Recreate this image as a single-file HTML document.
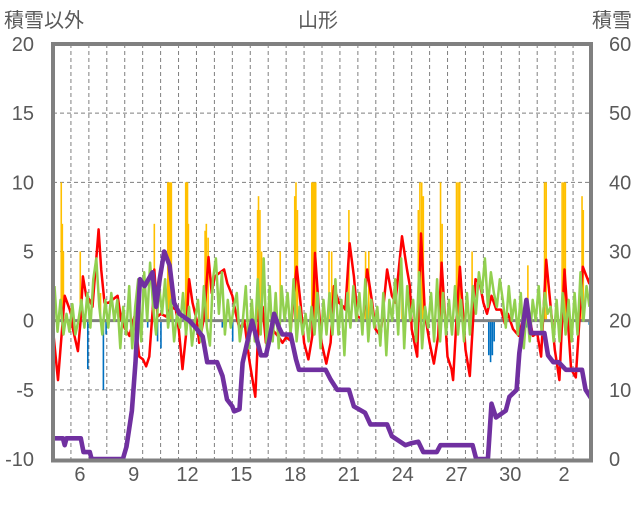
<!DOCTYPE html>
<html><head><meta charset="utf-8"><style>
html,body{margin:0;padding:0;background:#fff;}
svg text{font-family:"Liberation Sans","Noto Sans CJK JP",sans-serif;fill:#595959;}
</style></head><body>
<svg id="chart" width="636" height="501" viewBox="0 0 636 501">
<defs><clipPath id="clip"><rect x="53" y="44" width="538" height="415"/></clipPath></defs>
<text x="4" y="27" font-size="20">積雪以外</text>
<text x="318" y="27" font-size="20" text-anchor="middle">山形</text>
<text x="632" y="27" font-size="20" text-anchor="end">積雪</text>
<g id="grid"></g><g id="bars" clip-path="url(#clip)"></g><g id="zero"></g><g id="lines" clip-path="url(#clip)"></g><g id="frame"></g><g id="labels"></g>
</svg>
<script>
const leftTicks=[20,15,10,5,0,-5,-10];
const rightTicks=[60,50,40,30,20,10,0];
const dayLabels=['6','9','12','15','18','21','24','27','30','2'];
const dayLabelIdx=[1,4,7,10,13,16,19,22,25,28];
const redT=[0,0.28,0.65,0.93,1.04,1.11,1.39,1.54,1.67,1.85,2.04,2.2,2.54,2.69,2.87,3.1,3.6,3.8,4.02,4.26,4.54,4.81,5.02,5.19,5.37,5.56,5.65,5.83,6.02,6.3,6.6,6.85,7.02,7.22,7.41,7.59,7.78,8.0,8.15,8.43,8.67,8.85,9.02,9.54,9.72,10.0,10.2,10.4,10.67,10.94,11.28,11.5,11.69,11.87,12.2,12.6,12.8,13.0,13.2,13.59,13.8,14.0,14.24,14.46,14.61,14.8,14.98,15.24,15.48,15.67,15.94,16.2,16.3,16.54,16.78,16.98,17.3,17.52,17.8,17.98,18.26,18.63,18.9,19.1,19.46,19.74,19.9,20.0,20.31,20.52,20.74,21.0,21.24,21.48,21.67,21.85,22.0,22.22,22.31,22.5,22.69,22.87,23.0,23.24,23.56,23.8,24.0,24.2,24.45,24.72,24.98,25.2,25.37,25.65,25.98,26.2,26.5,26.76,27.0,27.22,27.5,27.69,27.98,28.24,28.52,28.89,29.15,29.54,29.9,30];
const redV=[-0.65,-4.3,1.8,0.8,0.3,-0.6,-2.2,0,3.2,1.8,1.5,1.0,6.6,3.7,1.3,1.3,1.8,0.1,-0.6,-1.1,0.3,-2.6,-2.8,-3.3,-2.6,0.8,3.7,0.3,0.5,0.3,1.0,0.8,-0.7,-3.5,-1.1,3.0,1.3,0.1,-1.6,0.3,4.6,2.0,3.2,3.7,2.7,1.8,0.5,-0.6,0,-2.8,-5.5,0.8,1.0,-1.6,-0.6,-1.2,-1.6,-1.2,-1.4,3.9,1.3,-1.6,-2.8,-1.1,4.9,1.3,-1.6,-3.1,-1.6,2.5,1.3,1.0,0.8,5.6,3.2,0.3,0.1,3.7,1.3,-0.6,-1.1,3.7,1.8,1.3,6.1,3.7,2.5,-0.6,-2.6,6.3,0.5,-1.6,-3.1,-1.1,4.2,0.5,-2.6,-3.5,-4.3,0.1,3.9,0.5,-2.1,-4.0,3.0,2.7,1.3,0.5,1.8,0.8,0.8,-0.2,0.5,-0.6,-1.1,0.1,0.8,-1.1,-0.9,-2.6,4.4,1.8,-2.1,-4.3,3.7,-3.5,-4.1,3.9,2.7,3.5];
const greenV=[2.5,-0.8,1.5,-1,0.5,-0.8, 1.2,-1,0,1.5,-0.5,2, -0.5,3,4.5,1,-1,1.5, -0.5,2,0,1.5,-2,1, -1,2.5,-2,1,3,-1.5, 3.5,0,4.2,1,-1,2.5, 0.5,3,-0.5,1.5,-1.5,0.5, -0.5,2,-1,1,-1.8,0, 1.5,-1.5,2.5,-0.5,-1.8,3, 4.5,0.5,3.5,-1,1.5,-0.5, 1,2,-1.5,0,2.5,-2, 1.5,-1.5,3,-1,4.5,-2, 2.5,-1.5,2,-2,2.5,0, 2,-1,3,-1.5,1,-1, 0.5,-1.5,1,-1,2,-2, 1.5,-1,2,-1,3,-1, 1.5,-2.5,2,-0.5,2.5,0, 2,-1,3,-1.5,1.5,-0.5, 1,-1.8,2,-2.5,1.5,0, 3,-1,4.5,-2,2.5,0, 1.5,-1.5,3.5,-2,1,-0.5, 2,-1.5,3,-1.5,2,-1, 1.5,-1,2.5,-1,1.5,-1.5, 2,-1,2.5,0.5,3.5,2, 4.5,1,3.5,2,1,3, 1.5,-0.5,2.5,0,1.5,-1, 2,-2,1,-1.5,1.5,0, 2.5,-1,2,0.5,1,-1.5, 1.5,-1.5,2,-1,1.5,-1.5, 2,-1,3.5,0,2.5,1];
const snowT=[0,0.55,0.65,0.75,1.55,1.7,2.05,2.15,3.9,4.1,4.4,4.6,4.72,4.85,5.1,5.55,5.75,5.95,6.2,6.5,6.75,7.05,7.6,7.95,8.35,8.6,9.15,9.45,9.7,10.0,10.1,10.4,10.57,11.1,11.4,11.6,11.87,12.05,12.33,12.6,12.8,13.25,13.55,13.72,15.2,15.48,15.85,16.5,16.78,17.4,17.7,18.63,18.9,19.65,20,20.37,20.65,21.4,21.6,23.4,23.6,24.25,24.45,24.7,25.25,25.45,25.85,26.0,26.4,26.65,27.4,27.6,27.9,28.2,28.6,29.5,29.7,30];
const snowV=[3,3,2,3,3,1,1,0,0,1.8,7,14,20,26,25,27,22,26,30,28,22.6,21,20,19,17.7,14,14,12,8.6,7.6,6.9,7.2,13.9,20,17,15,15,17,21,19,18,18,14.4,12.9,12.9,11.5,10,10,7.6,6.7,5,5,3.3,2,2.3,2.5,1,1,2,2,0,0,8,6,7,9,10,15.3,23,18.2,18.2,15,14,14,12.9,12.9,10,8.8];
const yelT=[0.46,0.52,0.58,1.52,2.65,5.65,6.4,6.45,6.5,6.55,6.6,7.4,7.45,7.5,7.55,8.48,8.55,8.65,11.41,11.46,11.54,11.63,12.67,13.48,13.55,13.63,14.43,14.5,14.57,14.65,15.39,15.54,16.5,17.43,17.61,19.46,20.37,20.46,20.56,20.65,21.61,21.7,22.5,22.59,22.68,23.37,26.48,27.41,27.5,28.39,28.48,28.57,29.5,29.57];
const yelV=[10,7,5,5,2,7,10,10,10,10,10,10,10,10,7,6.5,7,6,8,9,8,5,5,9,10,8,10,10,10,10,5,5,8,5,5,3,8,10,10,9,10,7,10,10,10,5,4,10,10,10,10,10,9,8];
const bluT=[1.94,2.81,2.96,4.63,5.28,5.83,6.02,9.44,10.02,10.39,10.6,24.3,24.4,24.5,24.6,26.0,26.4,29.9];
const bluV=[-3.5,-5,-1,-2,-0.5,-1.5,-2,-0.5,-1.5,-1,-0.5,-2.5,-3,-2.5,-1.5,-0.5,-0.5,-0.3];

const X0=53,X1=591,Y0=44,Y1=459,DAYS=30;
const xs=t=>X0+t*(X1-X0)/DAYS;
const yL=v=>Y1-(v+10)*(Y1-Y0)/30;
const yR=r=>Y1-r*(Y1-Y0)/60;
const NS='http://www.w3.org/2000/svg';
function mk(tag,parent,attrs){const e=document.createElementNS(NS,tag);for(const k in attrs)e.setAttribute(k,attrs[k]);document.getElementById(parent).appendChild(e);return e;}
for(const v of [15,10,5,-5]){const l=mk('line','grid',{x1:X0,x2:X1,y1:yL(v),y2:yL(v),stroke:'#7f7f7f','stroke-width':1,'stroke-dasharray':'4,3'});

}
for(let d=1;d<DAYS;d++){const l=mk('line','grid',{x1:xs(d),x2:xs(d),y1:Y0,y2:Y1,stroke:'#7f7f7f','stroke-width':1,'stroke-dasharray':'4,3'});

}
yelT.forEach((t,i)=>{const r=mk('rect','bars',{x:xs(t)-0.8,y:yL(yelV[i]),width:1.6,height:yL(0)-yL(yelV[i]),fill:'#ffc000'});

});
bluT.forEach((t,i)=>{const r=mk('rect','bars',{x:xs(t)-0.8,y:yL(0),width:1.6,height:yL(bluV[i])-yL(0),fill:'#0070c0'});

});
const z=mk('line','zero',{x1:X0,x2:X1,y1:yL(0),y2:yL(0),stroke:'#808080','stroke-width':3});


const redP=redT.map((t,i)=>xs(t).toFixed(1)+','+yL(redV[i]).toFixed(1)).join(' ');
const rl=mk('polyline','lines',{points:redP,fill:'none',stroke:'#ff0000','stroke-width':2.5,'stroke-linejoin':'round'});


const gP=greenV.map((v,i)=>xs((i+0.5)/6).toFixed(1)+','+yL(v).toFixed(1)).join(' ');
const gl=mk('polyline','lines',{points:gP,fill:'none',stroke:'#92d050','stroke-width':2.5,'stroke-linejoin':'round'});


const sP=snowT.map((t,i)=>xs(t).toFixed(1)+','+yR(snowV[i]).toFixed(1)).join(' ');
const sl=mk('polyline','lines',{points:sP,fill:'none',stroke:'#7030a0','stroke-width':4.6,'stroke-linejoin':'round'});


const f=mk('path','frame',{d:`M${X0},${Y1} L${X0},${Y0} L${X1},${Y0} L${X1},${Y1}`,fill:'none',stroke:'#808080','stroke-width':4});


const fb=mk('line','frame',{x1:X0-2,x2:X1+2,y1:Y1+1.5,y2:Y1+1.5,stroke:'#808080','stroke-width':4});


leftTicks.forEach(v=>{const t=mk('text','labels',{x:34,y:yL(v)+7,'font-size':20,'text-anchor':'end'});t.textContent=v;

});
rightTicks.forEach(v=>{const t=mk('text','labels',{x:609,y:yR(v)+7,'font-size':20});t.textContent=v;

});
dayLabels.forEach((s,i)=>{const t=mk('text','labels',{x:xs(dayLabelIdx[i]+0.5),y:481,'font-size':20,'text-anchor':'middle'});t.textContent=s;

});
</script>
</body></html>
